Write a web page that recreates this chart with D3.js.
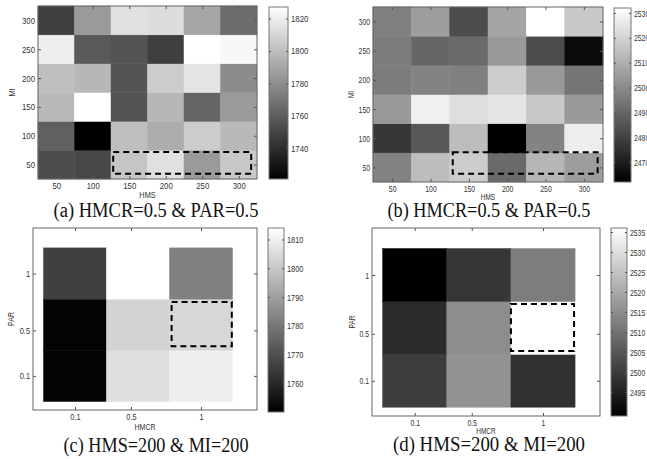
<!DOCTYPE html>
<html>
<head>
<meta charset="utf-8">
<script src="https://cdn.jsdelivr.net/npm/d3@7"></script>
<style>
  body { margin: 0; background: #fff; }
  svg { display: block; }
</style>
</head>
<body>
<div id="chart"></div>
<script>
// values
const hmsVals = [50, 100, 150, 200, 250, 300];
const miVals = [50, 100, 150, 200, 250, 300];
const hmcrVals = [0.1, 0.5, 1];
const parVals = [0.1, 0.5, 1];

// rows go MI = 50 .. 300, columns HMS = 50 .. 300
const gridA = [
  [1753, 1751, 1803, 1814, 1785, 1804],
  [1761, 1721, 1800, 1793, 1806, 1798],
  [1798, 1827, 1756, 1797, 1763, 1785],
  [1800, 1797, 1756, 1806, 1816, 1779],
  [1820, 1758, 1756, 1747, 1827, 1824],
  [1747, 1785, 1814, 1813, 1790, 1766]
];
const gridB = [
  [2498, 2514, 2518, 2491, 2512, 2505],
  [2477, 2486, 2514, 2462, 2498, 2527],
  [2504, 2528, 2523, 2525, 2517, 2504],
  [2496, 2498, 2497, 2518, 2504, 2494],
  [2496, 2490, 2491, 2504, 2483, 2465],
  [2497, 2505, 2483, 2507, 2532, 2517]
];
// rows go PAR = 0.1, 0.5, 1, columns HMCR = 0.1, 0.5, 1
const gridC = [
  [1751, 1806, 1810],
  [1751, 1803, 1804],
  [1766, 1814, 1782]
];
const gridD = [
  [2500, 2516, 2498],
  [2497, 2515, 2536],
  [2489, 2499, 2512]
];

const colorDomainA = [1721, 1827];
const colorDomainB = [2462, 2532];
const colorDomainC = [1750, 1814];
const colorDomainD = [2489, 2536];

const cbarTicksA = [1740, 1760, 1780, 1800, 1820];
const cbarTicksB = [2470, 2480, 2490, 2500, 2510, 2520, 2530];
const cbarTicksC = [1760, 1770, 1780, 1790, 1800, 1810];
const cbarTicksD = [2495, 2500, 2505, 2510, 2515, 2520, 2525, 2530, 2535];

// dashed highlight boxes: [x0, x1, y0, y1] in data units
const boxA = [128, 317, 34, 72];
const boxB = [129, 318, 39, 76];
const boxC = [0.79, 1.22, 0.36, 0.75];
const boxD = [0.775, 1.218, 0.353, 0.753];

const captions = ["(a) HMCR=0.5 & PAR=0.5", "(b) HMCR=0.5 & PAR=0.5",
                  "(c) HMS=200 & MI=200", "(d) HMS=200 & MI=200"];

const W = 647, H = 459;
const svg = d3.select("#chart").append("svg")
  .attr("width", W).attr("height", H);
const defs = svg.append("defs");

const sans = "Liberation Sans, Arial, sans-serif";

const panels = [
  {id: "a", xs: hmsVals, ys: miVals, grid: gridA, cdom: colorDomainA, cticks: cbarTicksA,
   box: boxA, xlab: "HMS", ylab: "MI", caption: captions[0],
   ax: [38, 257, 6, 179], cb: [269, 288, 7, 179],
   cap: [156, 217, 205], xlabY: 198, ylabX: 12, narrow: 0.82},
  {id: "b", xs: hmsVals, ys: miVals, grid: gridB, cdom: colorDomainB, cticks: cbarTicksB,
   box: boxB, xlab: "HMS", ylab: "MI", caption: captions[1],
   ax: [373, 603, 7, 182], cb: [614, 631, 8, 182],
   cap: [489, 217, 203], xlabY: 200, ylabX: 351, narrow: 0.72},
  {id: "c", xs: hmcrVals, ys: parVals, grid: gridC, cdom: colorDomainC, cticks: cbarTicksC,
   box: boxC, xlab: "HMCR", ylab: "PAR", caption: captions[2],
   ax: [33, 257, 228, 410], cb: [268, 284, 228, 412],
   cap: [156, 452, 185], xlabY: 430, ylabX: 11, narrow: 0.78},
  {id: "d", xs: hmcrVals, ys: parVals, grid: gridD, cdom: colorDomainD, cticks: cbarTicksD,
   box: boxD, xlab: "HMCR", ylab: "PAR", caption: captions[3],
   ax: [372, 600, 228, 416], cb: [611, 627, 228, 416],
   cap: [489, 451, 192], xlabY: 434, ylabX: 352, narrow: 0.72}
];

panels.forEach(drawPanel);

function drawPanel(p) {
  const n = p.xs.length, m = p.ys.length;
  const x0 = p.xs[0], x1 = p.xs[n - 1];
  const y0 = p.ys[0], y1 = p.ys[m - 1];
  // image cells are spaced evenly between first and last value (like imagesc)
  const dx = (x1 - x0) / (n - 1), dy = (y1 - y0) / (m - 1);
  const cx = p.xs.map((v, i) => x0 + i * dx);
  const cy = p.ys.map((v, i) => y0 + i * dy);

  let xDom, yDom;
  if (p.id == "a" || p.id == "b") {
    xDom = [x0 - dx / 2, x1 + dx / 2];
    yDom = [y0 - dy / 2, y1 + dy / 2];
  } else {
    xDom = [-0.2, 1.4];
    yDom = [-0.2, 1.4];
  }

  const x = d3.scaleLinear().domain(xDom).range([p.ax[0], p.ax[1]]);
  const y = d3.scaleLinear().domain(yDom).range([p.ax[3], p.ax[2]]);
  const color = d3.scaleLinear().domain(p.cdom).range(["#000", "#fff"]).clamp(true);

  const g = svg.append("g").attr("class", "panel-" + p.id);

  // cells
  const cells = [];
  p.grid.forEach((row, j) => row.forEach((v, i) => cells.push({i, j, v})));
  g.selectAll("rect.cell").data(cells).enter().append("rect")
    .attr("class", "cell")
    .attr("x", d => x(cx[d.i] - dx / 2))
    .attr("y", d => y(cy[d.j] + dy / 2))
    .attr("width", d => x(cx[d.i] + dx / 2) - x(cx[d.i] - dx / 2))
    .attr("height", d => y(cy[d.j] - dy / 2) - y(cy[d.j] + dy / 2))
    .attr("fill", d => color(d.v))
    .attr("stroke", d => color(d.v))
    .attr("stroke-width", 0.5);

  // dashed highlight
  g.append("rect")
    .attr("x", x(p.box[0]))
    .attr("y", y(p.box[3]))
    .attr("width", x(p.box[1]) - x(p.box[0]))
    .attr("height", y(p.box[2]) - y(p.box[3]))
    .attr("fill", "none")
    .attr("stroke", "#000")
    .attr("stroke-width", 2)
    .attr("stroke-dasharray", "6,4");

  // axes (MATLAB style: inward ticks on all four sides)
  const axStyle = sel => {
    sel.select(".domain").remove();
    sel.selectAll("line").attr("stroke", "#555");
    sel.selectAll("text")
      .attr("font-family", sans)
      .attr("font-size", 9.5)
      .attr("fill", "#333");
  };

  const xb = g.append("g").attr("transform", "translate(0," + p.ax[3] + ")")
    .call(d3.axisBottom(x).tickValues(p.xs).tickSize(-3).tickPadding(3)
      .tickFormat(d3.format("")));
  axStyle(xb);
  xb.selectAll("text").attr("transform", "scale(" + p.narrow + ",1)");

  const xt = g.append("g").attr("transform", "translate(0," + p.ax[2] + ")")
    .call(d3.axisTop(x).tickValues(p.xs).tickSize(-3).tickFormat(""));
  axStyle(xt);

  const yl = g.append("g").attr("transform", "translate(" + p.ax[0] + ",0)")
    .call(d3.axisLeft(y).tickValues(p.ys).tickSize(-3).tickPadding(3)
      .tickFormat(d3.format("")));
  axStyle(yl);
  yl.selectAll("text").attr("transform", "scale(" + p.narrow + ",1)")
    .attr("x", -3 / p.narrow);

  const yr = g.append("g").attr("transform", "translate(" + p.ax[1] + ",0)")
    .call(d3.axisRight(y).tickValues(p.ys).tickSize(-3).tickFormat(""));
  axStyle(yr);

  g.append("rect")
    .attr("x", p.ax[0]).attr("y", p.ax[2])
    .attr("width", p.ax[1] - p.ax[0]).attr("height", p.ax[3] - p.ax[2])
    .attr("fill", "none").attr("stroke", "#666").attr("stroke-width", 1);

  // axis labels
  g.append("text")
    .attr("transform", "translate(" + (p.ax[0] + p.ax[1]) / 2 + "," + p.xlabY + ") scale(" + p.narrow + ",1)")
    .attr("text-anchor", "middle")
    .attr("font-family", sans)
    .attr("font-size", 9)
    .attr("fill", "#333")
    .text(p.xlab);

  g.append("text")
    .attr("transform", "translate(" + p.ylabX + "," + (p.ax[2] + p.ax[3]) / 2 + ") rotate(-90) scale(" + p.narrow + ",1)")
    .attr("text-anchor", "middle")
    .attr("dy", "0.35em")
    .attr("font-family", sans)
    .attr("font-size", 9)
    .attr("fill", "#333")
    .text(p.ylab);

  // colorbar
  const gradId = "grad-" + p.id;
  const grad = defs.append("linearGradient").attr("id", gradId)
    .attr("x1", 0).attr("y1", 1).attr("x2", 0).attr("y2", 0);
  grad.selectAll("stop").data(p.cdom).enter().append("stop")
    .attr("offset", (d, i) => i)
    .attr("stop-color", d => color(d));

  const cy2 = d3.scaleLinear().domain(p.cdom).range([p.cb[3], p.cb[2]]);
  g.append("rect")
    .attr("x", p.cb[0]).attr("y", p.cb[2])
    .attr("width", p.cb[1] - p.cb[0]).attr("height", p.cb[3] - p.cb[2])
    .attr("fill", "url(#" + gradId + ")")
    .attr("stroke", "#777").attr("stroke-width", 1);

  const cr = g.append("g").attr("transform", "translate(" + p.cb[1] + ",0)")
    .call(d3.axisRight(cy2).tickValues(p.cticks).tickSize(-2).tickPadding(3)
      .tickFormat(d3.format("")));
  axStyle(cr);
  cr.selectAll("text").attr("transform", "scale(" + p.narrow + ",1)")
    .attr("x", 3 / p.narrow);

  const cl = g.append("g").attr("transform", "translate(" + p.cb[0] + ",0)")
    .call(d3.axisLeft(cy2).tickValues(p.cticks).tickSize(-2).tickFormat(""));
  axStyle(cl);

  // caption
  g.append("text")
    .attr("x", p.cap[0])
    .attr("y", p.cap[1])
    .attr("text-anchor", "middle")
    .attr("font-family", "Liberation Serif, Times New Roman, serif")
    .attr("font-size", 20)
    .attr("textLength", p.cap[2])
    .attr("lengthAdjust", "spacingAndGlyphs")
    .attr("fill", "#111")
    .text(p.caption);
}
</script>
</body>
</html>
